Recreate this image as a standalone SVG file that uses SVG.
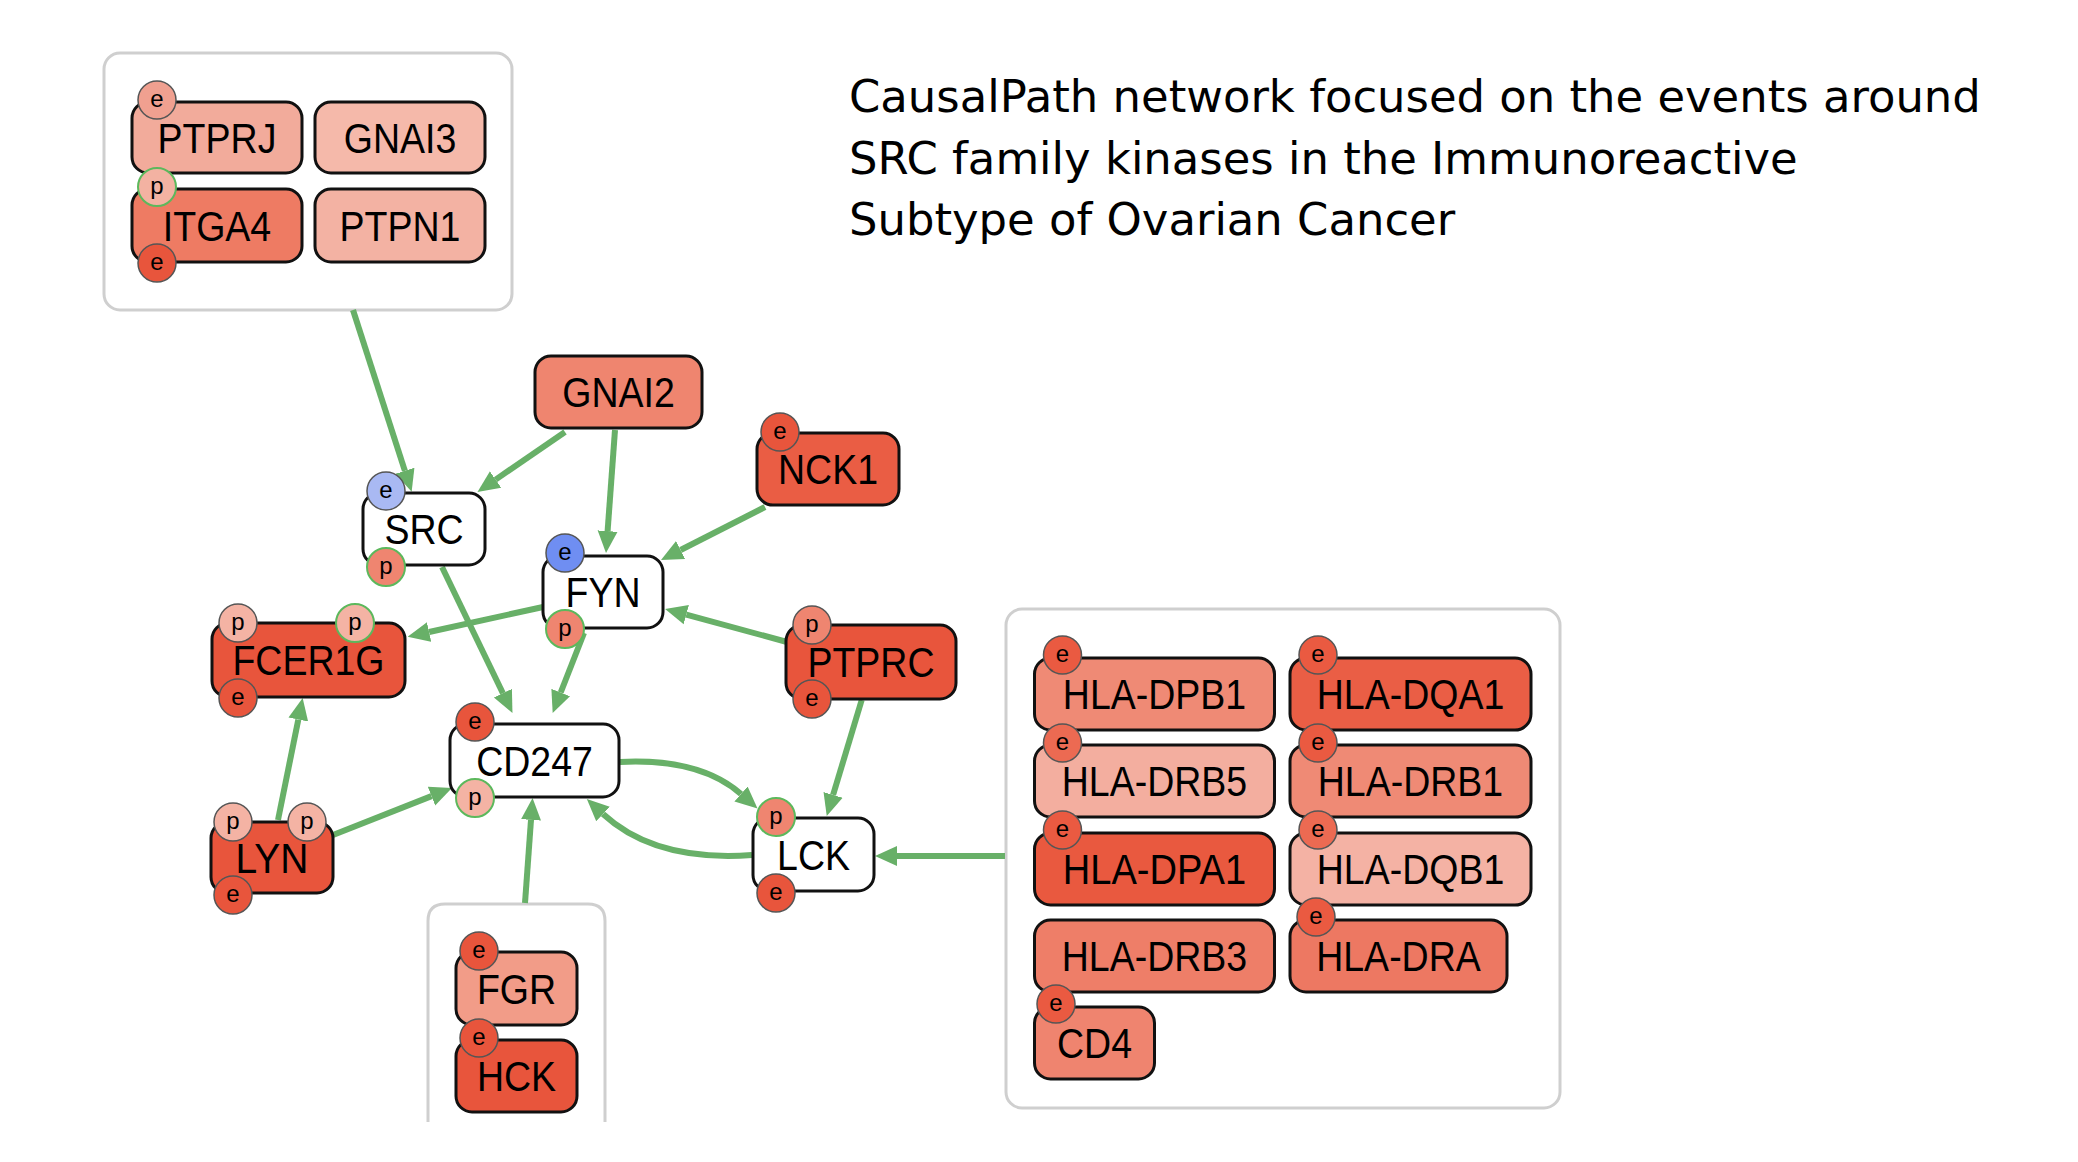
<svg xmlns="http://www.w3.org/2000/svg" width="2078" height="1162" viewBox="0 0 2078 1162">
<style>
.grp{fill:#fff;stroke:#cfcfcf;stroke-width:3}
.n{stroke:#111;stroke-width:3}
.lbl{font-family:"Liberation Sans",Arial,sans-serif;font-size:42px;fill:#000;text-anchor:middle}
.st{stroke:#555;stroke-width:1.5}
.sg{stroke:#5cb85c;stroke-width:2}
.sl{font-family:"Liberation Sans",Arial,sans-serif;font-size:24px;fill:#000;text-anchor:middle}
.e{fill:none;stroke:#68b068;stroke-width:6}
.title{font-family:"DejaVu Sans",Verdana,sans-serif;font-size:44.9px;fill:#000}
</style>
<defs>
<marker id="ah" markerUnits="userSpaceOnUse" markerWidth="22" markerHeight="22" viewBox="0 0 22 22" refX="0" refY="11" orient="auto">
<path d="M0,1 L22,11 L0,21 z" fill="#68b068"/>
</marker>
</defs>
<rect width="2078" height="1162" fill="#fff"/>

<g id="title">
<text class="title" x="849" y="112">CausalPath network focused on the events around</text>
<text class="title" x="849" y="173.5">SRC family kinases in the Immunoreactive</text>
<text class="title" x="849" y="235">Subtype of Ovarian Cancer</text>
</g>

<g id="group-top"><rect class="grp" x="104" y="53" width="408" height="257" rx="16"/></g>
<g id="group-fgr"><path class="grp" d="M428,1122 V921 Q428,904 445,904 H588 Q605,904 605,921 V1122"/></g>
<g id="group-hla"><rect class="grp" x="1006" y="609" width="554" height="499" rx="16"/></g>

<g id="connectors">
<path class="e" marker-end="url(#ah)" d="M353,310 L404.9,470.8"/>
<path class="e" marker-end="url(#ah)" d="M565,432 L495.6,479.6"/>
<path class="e" marker-end="url(#ah)" d="M615,430 L607.6,531.1"/>
<path class="e" marker-end="url(#ah)" d="M765,507 L680.6,550"/>
<path class="e" marker-end="url(#ah)" d="M543,607 L429.1,632"/>
<path class="e" marker-end="url(#ah)" d="M442,567 L502.9,693.2"/>
<path class="e" marker-end="url(#ah)" d="M584,633 L560.7,692.5"/>
<path class="e" marker-end="url(#ah)" d="M787,642 L686.3,614.7"/>
<path class="e" marker-end="url(#ah)" d="M861.7,700 L833.1,794.9"/>
<path class="e" marker-end="url(#ah)" d="M278,820 L298.3,719.6"/>
<path class="e" marker-end="url(#ah)" d="M333,835 L431.5,796.1"/>
<path class="e" marker-end="url(#ah)" d="M525,903 L531,819.9"/>
<path class="e" marker-end="url(#ah)" d="M1005,856 L897,856"/>
<path class="e" marker-end="url(#ah)" d="M620,762 Q700,758 741,794"/>
<path class="e" marker-end="url(#ah)" d="M752,855 Q655,862 603,814"/>
</g>

<g id="PTPRJ"><rect class="n" x="132" y="102" width="170" height="71" rx="16" fill="#f2ab9b"/><text class="lbl" x="217" y="152.5" textLength="118.8" lengthAdjust="spacingAndGlyphs">PTPRJ</text>
<circle class="st" cx="157" cy="100" r="19" fill="#f0a090"/><text class="sl" x="157" y="107">e</text></g>
<g id="GNAI3"><rect class="n" x="315" y="102" width="170" height="71" rx="16" fill="#f5b9aa"/><text class="lbl" x="400" y="152.5" textLength="112.5" lengthAdjust="spacingAndGlyphs">GNAI3</text></g>
<g id="ITGA4"><rect class="n" x="132" y="189" width="170" height="73" rx="16" fill="#ee7b63"/><text class="lbl" x="217" y="240.5" textLength="108.4" lengthAdjust="spacingAndGlyphs">ITGA4</text>
<circle class="sg" cx="157" cy="187" r="19" fill="#f3b2a2"/><text class="sl" x="157" y="194">p</text>
<circle class="st" cx="157" cy="263" r="19" fill="#e8553c"/><text class="sl" x="157" y="270">e</text></g>
<g id="PTPN1"><rect class="n" x="315" y="189" width="170" height="73" rx="16" fill="#f3b2a3"/><text class="lbl" x="400" y="240.5" textLength="120.9" lengthAdjust="spacingAndGlyphs">PTPN1</text></g>

<g id="GNAI2"><rect class="n" x="535" y="356" width="167" height="72" rx="16" fill="#ef856f"/><text class="lbl" x="618.5" y="406.5" textLength="112.5" lengthAdjust="spacingAndGlyphs">GNAI2</text></g>
<g id="NCK1"><rect class="n" x="757" y="433" width="142" height="72" rx="16" fill="#ea5d44"/><text class="lbl" x="828" y="483.5" textLength="100" lengthAdjust="spacingAndGlyphs">NCK1</text>
<circle class="st" cx="780" cy="432" r="19" fill="#e8553c"/><text class="sl" x="780" y="439">e</text></g>
<g id="SRC"><rect class="n" x="363" y="493" width="122" height="72" rx="16" fill="#fff"/><text class="lbl" x="424" y="543.5" textLength="79.2" lengthAdjust="spacingAndGlyphs">SRC</text>
<circle class="st" cx="386" cy="491" r="19" fill="#a9b9f3"/><text class="sl" x="386" y="498">e</text>
<circle class="sg" cx="386" cy="567" r="19" fill="#ef8570"/><text class="sl" x="386" y="574">p</text></g>
<g id="FYN"><rect class="n" x="543" y="556" width="120" height="72" rx="16" fill="#fff"/><text class="lbl" x="603" y="606.5" textLength="75" lengthAdjust="spacingAndGlyphs">FYN</text>
<circle class="st" cx="565" cy="553" r="19" fill="#6f8ef2"/><text class="sl" x="565" y="560">e</text>
<circle class="sg" cx="565" cy="629" r="19" fill="#ef8570"/><text class="sl" x="565" y="636">p</text></g>
<g id="FCER1G"><rect class="n" x="212" y="623" width="193" height="74" rx="16" fill="#e8553c"/><text class="lbl" x="308.5" y="674.5" textLength="152.1" lengthAdjust="spacingAndGlyphs">FCER1G</text>
<circle class="st" cx="238" cy="623" r="19" fill="#f4b3a4"/><text class="sl" x="238" y="630">p</text>
<circle class="sg" cx="355" cy="623" r="19" fill="#f4b3a4"/><text class="sl" x="355" y="630">p</text>
<circle class="st" cx="238" cy="698" r="19" fill="#e8553c"/><text class="sl" x="238" y="705">e</text></g>
<g id="PTPRC"><rect class="n" x="786" y="625" width="170" height="74" rx="16" fill="#e8553c"/><text class="lbl" x="871" y="676.5" textLength="127.1" lengthAdjust="spacingAndGlyphs">PTPRC</text>
<circle class="st" cx="812" cy="625" r="19" fill="#ef8570"/><text class="sl" x="812" y="632">p</text>
<circle class="st" cx="812" cy="699" r="19" fill="#e8553c"/><text class="sl" x="812" y="706">e</text></g>
<g id="CD247"><rect class="n" x="450" y="724" width="169" height="73" rx="16" fill="#fff"/><text class="lbl" x="534.5" y="775.5" textLength="116.7" lengthAdjust="spacingAndGlyphs">CD247</text>
<circle class="st" cx="475" cy="722" r="19" fill="#e8553c"/><text class="sl" x="475" y="729">e</text>
<circle class="sg" cx="475" cy="798" r="19" fill="#f4b3a4"/><text class="sl" x="475" y="805">p</text></g>
<g id="LCK"><rect class="n" x="753" y="818" width="121" height="73" rx="16" fill="#fff"/><text class="lbl" x="813.5" y="869.5" textLength="72.9" lengthAdjust="spacingAndGlyphs">LCK</text>
<circle class="sg" cx="776" cy="817" r="19" fill="#ef8570"/><text class="sl" x="776" y="824">p</text>
<circle class="st" cx="776" cy="893" r="19" fill="#e8553c"/><text class="sl" x="776" y="900">e</text></g>
<g id="LYN"><rect class="n" x="211" y="822" width="122" height="71" rx="16" fill="#e8553c"/><text class="lbl" x="272" y="872.5" textLength="72.9" lengthAdjust="spacingAndGlyphs">LYN</text>
<circle class="st" cx="233" cy="822" r="19" fill="#f4b3a4"/><text class="sl" x="233" y="829">p</text>
<circle class="st" cx="307" cy="822" r="19" fill="#f4b3a4"/><text class="sl" x="307" y="829">p</text>
<circle class="st" cx="233" cy="895" r="19" fill="#e8553c"/><text class="sl" x="233" y="902">e</text></g>

<g id="FGR"><rect class="n" x="456" y="952" width="121" height="73" rx="16" fill="#f29c88"/><text class="lbl" x="516.5" y="1003.5" textLength="79.2" lengthAdjust="spacingAndGlyphs">FGR</text>
<circle class="st" cx="479" cy="951" r="19" fill="#e8553c"/><text class="sl" x="479" y="958">e</text></g>
<g id="HCK"><rect class="n" x="456" y="1040" width="121" height="72" rx="16" fill="#e8553c"/><text class="lbl" x="516.5" y="1090.5" textLength="79.2" lengthAdjust="spacingAndGlyphs">HCK</text>
<circle class="st" cx="479" cy="1038" r="19" fill="#e8553c"/><text class="sl" x="479" y="1045">e</text></g>

<g id="HLA-DPB1"><rect class="n" x="1034.5" y="658" width="240" height="72" rx="16" fill="#ef8a75"/><text class="lbl" x="1154.5" y="708.5" textLength="183.4" lengthAdjust="spacingAndGlyphs">HLA-DPB1</text>
<circle class="st" cx="1062.5" cy="655" r="19" fill="#ea5a41"/><text class="sl" x="1062.5" y="662">e</text></g>
<g id="HLA-DQA1"><rect class="n" x="1290" y="658" width="241" height="72" rx="16" fill="#ea5e45"/><text class="lbl" x="1410.5" y="708.5" textLength="187.5" lengthAdjust="spacingAndGlyphs">HLA-DQA1</text>
<circle class="st" cx="1318" cy="655" r="19" fill="#ea5a41"/><text class="sl" x="1318" y="662">e</text></g>
<g id="HLA-DRB5"><rect class="n" x="1034.5" y="745" width="240" height="72" rx="16" fill="#f3ae9f"/><text class="lbl" x="1154.5" y="795.5" textLength="185.4" lengthAdjust="spacingAndGlyphs">HLA-DRB5</text>
<circle class="st" cx="1062.5" cy="743" r="19" fill="#ec6a52"/><text class="sl" x="1062.5" y="750">e</text></g>
<g id="HLA-DRB1"><rect class="n" x="1290" y="745" width="241" height="72" rx="16" fill="#ef8a75"/><text class="lbl" x="1410.5" y="795.5" textLength="185.4" lengthAdjust="spacingAndGlyphs">HLA-DRB1</text>
<circle class="st" cx="1318" cy="743" r="19" fill="#ea5a41"/><text class="sl" x="1318" y="750">e</text></g>
<g id="HLA-DPA1"><rect class="n" x="1034.5" y="833" width="240" height="72" rx="16" fill="#e9593f"/><text class="lbl" x="1154.5" y="883.5" textLength="183.4" lengthAdjust="spacingAndGlyphs">HLA-DPA1</text>
<circle class="st" cx="1062.5" cy="830" r="19" fill="#ea5a41"/><text class="sl" x="1062.5" y="837">e</text></g>
<g id="HLA-DQB1"><rect class="n" x="1290" y="833" width="241" height="72" rx="16" fill="#f4b2a4"/><text class="lbl" x="1410.5" y="883.5" textLength="187.5" lengthAdjust="spacingAndGlyphs">HLA-DQB1</text>
<circle class="st" cx="1318" cy="830" r="19" fill="#ec6a52"/><text class="sl" x="1318" y="837">e</text></g>
<g id="HLA-DRB3"><rect class="n" x="1034.5" y="920" width="240" height="72" rx="16" fill="#ee7e68"/><text class="lbl" x="1154.5" y="970.5" textLength="185.4" lengthAdjust="spacingAndGlyphs">HLA-DRB3</text></g>
<g id="HLA-DRA"><rect class="n" x="1290" y="920" width="217" height="72" rx="16" fill="#ed7862"/><text class="lbl" x="1398.5" y="970.5" textLength="164.6" lengthAdjust="spacingAndGlyphs">HLA-DRA</text>
<circle class="st" cx="1316" cy="917" r="19" fill="#ea5a41"/><text class="sl" x="1316" y="924">e</text></g>
<g id="CD4"><rect class="n" x="1034.5" y="1007" width="120" height="72" rx="16" fill="#ef846f"/><text class="lbl" x="1094.5" y="1057.5" textLength="75" lengthAdjust="spacingAndGlyphs">CD4</text>
<circle class="st" cx="1056" cy="1004" r="19" fill="#ea5a41"/><text class="sl" x="1056" y="1011">e</text></g>
</svg>
